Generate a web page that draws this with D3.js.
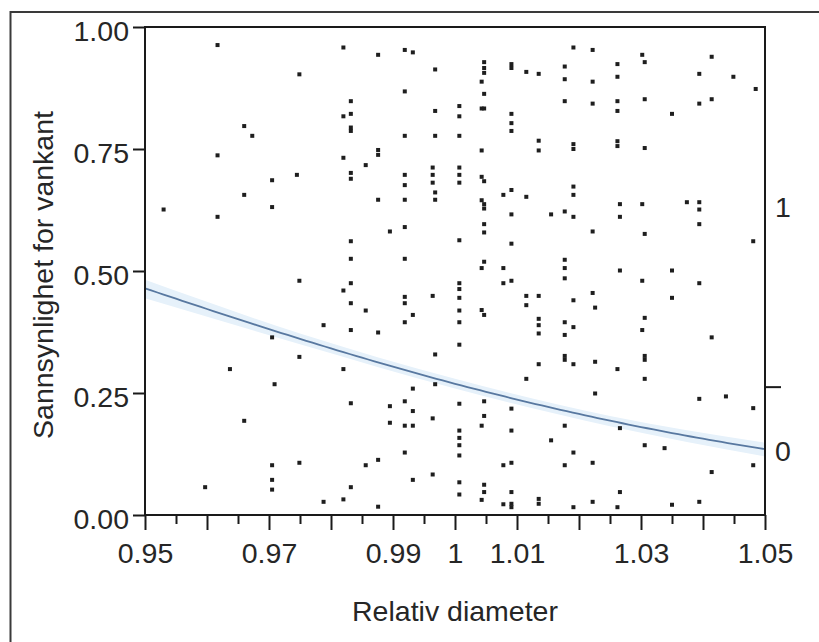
<!DOCTYPE html>
<html><head><meta charset="utf-8">
<script src="https://cdn.jsdelivr.net/npm/d3@7/dist/d3.min.js"></script>
<style>
body{margin:0;background:#fff}
svg{display:block}
text{font-family:"Liberation Sans",Arial,sans-serif;fill:#262626}
</style>
</head><body>
<svg id="chart" width="819" height="642"></svg>
<script>
// ---------------- data ----------------
const xMajorTicks = [0.95,0.96,0.97,0.98,0.99,1.00,1.01,1.02,1.03,1.04,1.05];
const xMinorTicks = [0.955,0.965,0.975,0.985,0.995,1.005,1.015,1.025,1.035,1.045];
const xTickLabels = {"0.95":"0.95","0.97":"0.97","0.99":"0.99","1":"1","1.01":"1.01","1.03":"1.03","1.05":"1.05"};
const yTicks = [0, 0.25, 0.5, 0.75, 1];
const yTickLabels = ["0.00","0.25","0.50","0.75","1.00"];
const rightLevels = ["0","1"];
const rightSplit = 0.262;           // share of response 0 (boundary tick on right axis)
const xTitle = "Relativ diameter";
const yTitle = "Sannsynlighet for vankant";

// logistic fit (logit p = b0 + b1*x)
const fitIntercept = 16.15;
const fitSlope = -17.15;
// confidence band
const bandX     = [0.95, 0.975, 1.00, 1.025, 1.05];
const bandUpper = [0.482, 0.372, 0.279, 0.203, 0.148];
const bandLower = [0.444, 0.350, 0.259, 0.182, 0.120];

// observed points: diameter level and its plotted (jittered) positions
const diameterLevels = [0.9530,0.9597,0.9617,0.9637,0.9660,0.9673,0.9705,0.9709,0.9745,0.9749,
  0.9788,0.9820,0.9832,0.9856,0.9876,0.9895,0.9919,0.9932,0.9964,0.9968,
  1.0007,1.0043,1.0047,1.0078,1.0091,1.0115,1.0135,1.0155,1.0177,1.0191,
  1.0222,1.0226,1.0262,1.0266,1.0302,1.0306,1.0338,1.0350,1.0374,1.0394,
  1.0414,1.0437,1.0449,1.0481,1.0485];
const pointY = [
  [0.626],
  [0.057],
  [0.963,0.737,0.611],
  [0.299],
  [0.797,0.656,0.193],
  [0.777],
  [0.686,0.631,0.364,0.102,0.072,0.052],
  [0.268],
  [0.697],
  [0.903,0.480,0.324,0.107],
  [0.389,0.027],
  [0.958,0.817,0.732,0.460,0.299,0.032],
  [0.848,0.822,0.794,0.787,0.701,0.689,0.561,0.525,0.475,0.434,0.379,0.229,0.057],
  [0.717,0.419,0.102],
  [0.943,0.748,0.738,0.646,0.374,0.113,0.017],
  [0.581,0.223,0.189],
  [0.953,0.868,0.777,0.697,0.676,0.646,0.590,0.525,0.447,0.434,0.395,0.233,0.183,0.128],
  [0.948,0.410,0.259,0.213,0.183,0.072],
  [0.712,0.697,0.681,0.449,0.198,0.083],
  [0.913,0.828,0.777,0.661,0.646,0.329,0.268],
  [0.838,0.817,0.777,0.712,0.697,0.681,0.563,0.475,0.463,0.445,0.419,0.395,0.349,0.228,0.173,0.158,0.143,0.122,0.067,0.042],
  [0.888,0.833,0.747,0.693,0.645,0.420,0.183,0.031,0.506],
  [0.928,0.916,0.906,0.863,0.833,0.684,0.637,0.628,0.596,0.579,0.519,0.410,0.233,0.203,0.062,0.047],
  [0.656,0.506,0.475,0.102,0.022],
  [0.924,0.916,0.822,0.803,0.787,0.666,0.616,0.556,0.480,0.218,0.173,0.107,0.047,0.023,0.016],
  [0.908,0.652,0.449,0.430,0.279],
  [0.904,0.767,0.747,0.449,0.402,0.389,0.372,0.309,0.033,0.023],
  [0.616,0.153],
  [0.919,0.893,0.848,0.622,0.523,0.506,0.485,0.395,0.369,0.326,0.318,0.183,0.102],
  [0.958,0.760,0.750,0.673,0.656,0.611,0.440,0.385,0.309,0.128,0.016],
  [0.953,0.888,0.843,0.581,0.455,0.107,0.027],
  [0.425,0.314,0.249],
  [0.924,0.898,0.848,0.828,0.766,0.756,0.299,0.016],
  [0.637,0.611,0.501,0.178,0.047],
  [0.943,0.637,0.480,0.379],
  [0.928,0.852,0.752,0.576,0.404,0.326,0.318,0.279,0.143],
  [0.137],
  [0.822,0.501,0.445,0.021],
  [0.641],
  [0.904,0.843,0.641,0.626,0.596,0.475,0.238,0.027],
  [0.939,0.852,0.364,0.088],
  [0.243],
  [0.898],
  [0.561,0.219,0.102],
  [0.873]
];

// ---------------- layout ----------------
const W = 819, H = 642;
const plot = {left:145, right:765, top:27, bottom:515};
const svg = d3.select("#chart");

const x = d3.scaleLinear().domain([0.95, 1.05]).range([plot.left, plot.right]);
const y = d3.scaleLinear().domain([0, 1]).range([plot.bottom, plot.top]);

// outer frame (clipped by the window on the right and bottom)
svg.append("path")
  .attr("d", `M10.5,${H} V12 H${W}`)
  .attr("fill","none").attr("stroke","#3a3a3a").attr("stroke-width",2);

// confidence band
const bandPts = bandX.map((v,i)=>({x:v, lo:bandLower[i], hi:bandUpper[i]}));
svg.append("path")
  .datum(bandPts)
  .attr("d", d3.area().curve(d3.curveMonotoneX)
      .x(d=>x(d.x)).y0(d=>y(d.lo)).y1(d=>y(d.hi)))
  .attr("fill","#e6f1fa");

// fitted logistic curve
const curveXs = d3.range(0, 101).map(i => 0.95 + i*0.001);
const logistic = v => 1/(1+Math.exp(-(fitIntercept + fitSlope*v)));
svg.append("path")
  .datum(curveXs)
  .attr("d", d3.line().x(d=>x(d)).y(d=>y(logistic(d))))
  .attr("fill","none").attr("stroke","#5878a0").attr("stroke-width",1.8);

// points
const pts = [];
diameterLevels.forEach((lv,i)=>pointY[i].forEach(p=>pts.push({x:lv,y:p})));
svg.append("g").selectAll("rect").data(pts).join("rect")
  .attr("x", d=>x(d.x)-2).attr("y", d=>y(d.y)-2)
  .attr("width",4).attr("height",4)
  .attr("fill","#1e1e1e");

// plot frame
svg.append("rect")
  .attr("x",plot.left).attr("y",plot.top)
  .attr("width",plot.right-plot.left).attr("height",plot.bottom-plot.top)
  .attr("fill","none").attr("stroke","#1a1a1a").attr("stroke-width",2);

const FS = 28.5;

// bottom axis: minor ticks
const gMinor = svg.append("g").attr("transform",`translate(0,${plot.bottom})`)
  .call(d3.axisBottom(x).tickValues(xMinorTicks).tickSize(9).tickFormat(""));
// bottom axis: major ticks + labels
const gX = svg.append("g").attr("transform",`translate(0,${plot.bottom})`)
  .call(d3.axisBottom(x).tickValues(xMajorTicks).tickSize(15)
        .tickFormat(d => xTickLabels[String(+d.toFixed(2))] || ""));
[gMinor,gX].forEach(g=>{
  g.select(".domain").remove();
  g.selectAll(".tick line").attr("stroke","#1a1a1a").attr("stroke-width",2);
});
gX.selectAll(".tick text").attr("font-size",FS).attr("font-family",null)
  .attr("fill","#262626").attr("y",48).attr("dy",0);

// left axis
const gY = svg.append("g").attr("transform",`translate(${plot.left},0)`)
  .call(d3.axisLeft(y).tickValues(yTicks).tickSize(12)
        .tickFormat((d,i)=>yTickLabels[i]));
gY.select(".domain").remove();
gY.selectAll(".tick line").attr("stroke","#1a1a1a").attr("stroke-width",2);
gY.selectAll(".tick text").attr("font-size",FS).attr("font-family",null)
  .attr("fill","#262626").attr("x",-16).attr("dy","0.46em");

// right axis: response levels
const yR = d3.scaleLinear().domain([0,1]).range([plot.bottom, plot.top]);
svg.append("line")
  .attr("x1",plot.right).attr("x2",plot.right+16)
  .attr("y1",yR(rightSplit)).attr("y2",yR(rightSplit))
  .attr("stroke","#1a1a1a").attr("stroke-width",2);
const levelMid = [rightSplit/2, (1+rightSplit)/2];
svg.append("g").selectAll("text").data(rightLevels).join("text")
  .attr("x", plot.right+10)
  .attr("y",(d,i)=>yR(levelMid[i]))
  .attr("dy","0.36em")
  .attr("font-size",FS)
  .text(d=>d);

// titles
svg.append("text")
  .attr("x",(plot.left+plot.right)/2).attr("y",621)
  .attr("text-anchor","middle").attr("font-size",FS)
  .text(xTitle);
svg.append("text")
  .attr("transform",`translate(53,${(plot.top+plot.bottom)/2+4}) rotate(-90)`)
  .attr("text-anchor","middle").attr("font-size",FS)
  .text(yTitle);
</script>
</body></html>
